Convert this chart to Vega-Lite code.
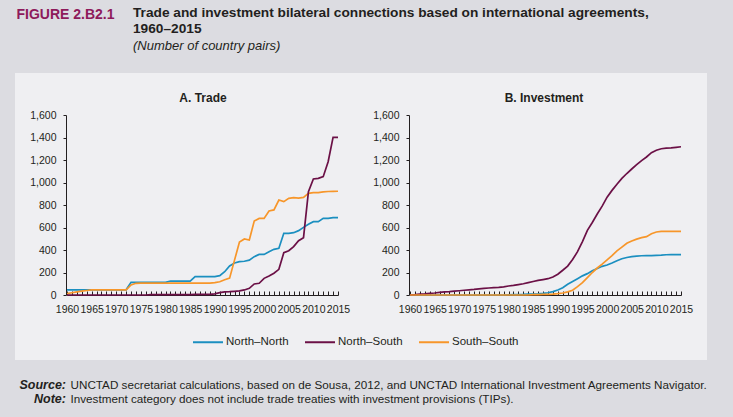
{
  "$schema": "https://vega.github.io/schema/vega-lite/v6.json",
  "width": 692,
  "height": 287,
  "autosize": "none",
  "padding": {"left": 15, "top": 73, "right": 26, "bottom": 57},
  "background": "#dcdce1",
  "config": {
    "view": {"fill": "#efeff2", "stroke": null},
    "font": "Liberation Sans",
    "axis": {"grid": false, "labelFont": "Liberation Sans", "labelFontSize": 10.5, "labelColor": "#231f20", "domainColor": "#231f20", "tickColor": "#231f20", "titleFont": "Liberation Sans", "titleColor": "#231f20"},
    "legend": {"labelFont": "Liberation Sans"}
  },
  "title": {
    "text": ["Trade and investment bilateral connections based on international agreements,", "1960–2015"],
    "subtitle": "(Number of country pairs)",
    "anchor": "start",
    "frame": "group",
    "dx": 118,
    "dy": 45,
    "offset": 0,
    "font": "Liberation Sans",
    "fontSize": 13.7,
    "fontWeight": "bold",
    "color": "#231f20",
    "lineHeight": 16,
    "subtitleFont": "Liberation Sans",
    "subtitleFontSize": 13,
    "subtitleFontStyle": "italic",
    "subtitleColor": "#231f20",
    "subtitlePadding": 4
  },
  "datasets": {
    "d": [
      {"panel":"Trade","series":"North–North","year":1960,"value":46},{"panel":"Trade","series":"North–North","year":1961,"value":46},{"panel":"Trade","series":"North–North","year":1962,"value":46},{"panel":"Trade","series":"North–North","year":1963,"value":46},{"panel":"Trade","series":"North–North","year":1964,"value":46},{"panel":"Trade","series":"North–North","year":1965,"value":46},{"panel":"Trade","series":"North–North","year":1966,"value":46},{"panel":"Trade","series":"North–North","year":1967,"value":46},{"panel":"Trade","series":"North–North","year":1968,"value":46},{"panel":"Trade","series":"North–North","year":1969,"value":46},{"panel":"Trade","series":"North–North","year":1970,"value":46},{"panel":"Trade","series":"North–North","year":1971,"value":46},{"panel":"Trade","series":"North–North","year":1972,"value":46},{"panel":"Trade","series":"North–North","year":1973,"value":113},{"panel":"Trade","series":"North–North","year":1974,"value":113},{"panel":"Trade","series":"North–North","year":1975,"value":113},{"panel":"Trade","series":"North–North","year":1976,"value":113},{"panel":"Trade","series":"North–North","year":1977,"value":113},{"panel":"Trade","series":"North–North","year":1978,"value":113},{"panel":"Trade","series":"North–North","year":1979,"value":113},{"panel":"Trade","series":"North–North","year":1980,"value":113},{"panel":"Trade","series":"North–North","year":1981,"value":124},{"panel":"Trade","series":"North–North","year":1982,"value":124},{"panel":"Trade","series":"North–North","year":1983,"value":124},{"panel":"Trade","series":"North–North","year":1984,"value":124},{"panel":"Trade","series":"North–North","year":1985,"value":124},{"panel":"Trade","series":"North–North","year":1986,"value":163},{"panel":"Trade","series":"North–North","year":1987,"value":163},{"panel":"Trade","series":"North–North","year":1988,"value":163},{"panel":"Trade","series":"North–North","year":1989,"value":163},{"panel":"Trade","series":"North–North","year":1990,"value":163},{"panel":"Trade","series":"North–North","year":1991,"value":172},{"panel":"Trade","series":"North–North","year":1992,"value":207},{"panel":"Trade","series":"North–North","year":1993,"value":258},{"panel":"Trade","series":"North–North","year":1994,"value":285},{"panel":"Trade","series":"North–North","year":1995,"value":296},{"panel":"Trade","series":"North–North","year":1996,"value":300},{"panel":"Trade","series":"North–North","year":1997,"value":310},{"panel":"Trade","series":"North–North","year":1998,"value":341},{"panel":"Trade","series":"North–North","year":1999,"value":361},{"panel":"Trade","series":"North–North","year":2000,"value":361},{"panel":"Trade","series":"North–North","year":2001,"value":385},{"panel":"Trade","series":"North–North","year":2002,"value":406},{"panel":"Trade","series":"North–North","year":2003,"value":415},{"panel":"Trade","series":"North–North","year":2004,"value":548},{"panel":"Trade","series":"North–North","year":2005,"value":548},{"panel":"Trade","series":"North–North","year":2006,"value":554},{"panel":"Trade","series":"North–North","year":2007,"value":572},{"panel":"Trade","series":"North–North","year":2008,"value":601},{"panel":"Trade","series":"North–North","year":2009,"value":628},{"panel":"Trade","series":"North–North","year":2010,"value":652},{"panel":"Trade","series":"North–North","year":2011,"value":652},{"panel":"Trade","series":"North–North","year":2012,"value":681},{"panel":"Trade","series":"North–North","year":2013,"value":681},{"panel":"Trade","series":"North–North","year":2014,"value":687},{"panel":"Trade","series":"North–North","year":2015,"value":687},

      {"panel":"Trade","series":"North–South","year":1960,"value":0},{"panel":"Trade","series":"North–South","year":1961,"value":0},{"panel":"Trade","series":"North–South","year":1962,"value":0},{"panel":"Trade","series":"North–South","year":1963,"value":0},{"panel":"Trade","series":"North–South","year":1964,"value":0},{"panel":"Trade","series":"North–South","year":1965,"value":0},{"panel":"Trade","series":"North–South","year":1966,"value":0},{"panel":"Trade","series":"North–South","year":1967,"value":0},{"panel":"Trade","series":"North–South","year":1968,"value":0},{"panel":"Trade","series":"North–South","year":1969,"value":0},{"panel":"Trade","series":"North–South","year":1970,"value":0},{"panel":"Trade","series":"North–South","year":1971,"value":0},{"panel":"Trade","series":"North–South","year":1972,"value":0},{"panel":"Trade","series":"North–South","year":1973,"value":0},{"panel":"Trade","series":"North–South","year":1974,"value":0},{"panel":"Trade","series":"North–South","year":1975,"value":0},{"panel":"Trade","series":"North–South","year":1976,"value":0},{"panel":"Trade","series":"North–South","year":1977,"value":3},{"panel":"Trade","series":"North–South","year":1978,"value":3},{"panel":"Trade","series":"North–South","year":1979,"value":3},{"panel":"Trade","series":"North–South","year":1980,"value":3},{"panel":"Trade","series":"North–South","year":1981,"value":3},{"panel":"Trade","series":"North–South","year":1982,"value":3},{"panel":"Trade","series":"North–South","year":1983,"value":3},{"panel":"Trade","series":"North–South","year":1984,"value":3},{"panel":"Trade","series":"North–South","year":1985,"value":3},{"panel":"Trade","series":"North–South","year":1986,"value":6},{"panel":"Trade","series":"North–South","year":1987,"value":6},{"panel":"Trade","series":"North–South","year":1988,"value":6},{"panel":"Trade","series":"North–South","year":1989,"value":6},{"panel":"Trade","series":"North–South","year":1990,"value":10},{"panel":"Trade","series":"North–South","year":1991,"value":21},{"panel":"Trade","series":"North–South","year":1992,"value":28},{"panel":"Trade","series":"North–South","year":1993,"value":30},{"panel":"Trade","series":"North–South","year":1994,"value":33},{"panel":"Trade","series":"North–South","year":1995,"value":36},{"panel":"Trade","series":"North–South","year":1996,"value":45},{"panel":"Trade","series":"North–South","year":1997,"value":59},{"panel":"Trade","series":"North–South","year":1998,"value":98},{"panel":"Trade","series":"North–South","year":1999,"value":104},{"panel":"Trade","series":"North–South","year":2000,"value":148},{"panel":"Trade","series":"North–South","year":2001,"value":169},{"panel":"Trade","series":"North–South","year":2002,"value":193},{"panel":"Trade","series":"North–South","year":2003,"value":228},{"panel":"Trade","series":"North–South","year":2004,"value":376},{"panel":"Trade","series":"North–South","year":2005,"value":394},{"panel":"Trade","series":"North–South","year":2006,"value":430},{"panel":"Trade","series":"North–South","year":2007,"value":483},{"panel":"Trade","series":"North–South","year":2008,"value":510},{"panel":"Trade","series":"North–South","year":2009,"value":918},{"panel":"Trade","series":"North–South","year":2010,"value":1031},{"panel":"Trade","series":"North–South","year":2011,"value":1037},{"panel":"Trade","series":"North–South","year":2012,"value":1052},{"panel":"Trade","series":"North–South","year":2013,"value":1185},{"panel":"Trade","series":"North–South","year":2014,"value":1401},{"panel":"Trade","series":"North–South","year":2015,"value":1401},

      {"panel":"Trade","series":"South–South","year":1960,"value":12},{"panel":"Trade","series":"South–South","year":1961,"value":20},{"panel":"Trade","series":"South–South","year":1962,"value":28},{"panel":"Trade","series":"South–South","year":1963,"value":35},{"panel":"Trade","series":"South–South","year":1964,"value":40},{"panel":"Trade","series":"South–South","year":1965,"value":45},{"panel":"Trade","series":"South–South","year":1966,"value":46},{"panel":"Trade","series":"South–South","year":1967,"value":46},{"panel":"Trade","series":"South–South","year":1968,"value":46},{"panel":"Trade","series":"South–South","year":1969,"value":46},{"panel":"Trade","series":"South–South","year":1970,"value":46},{"panel":"Trade","series":"South–South","year":1971,"value":46},{"panel":"Trade","series":"South–South","year":1972,"value":46},{"panel":"Trade","series":"South–South","year":1973,"value":90},{"panel":"Trade","series":"South–South","year":1974,"value":104},{"panel":"Trade","series":"South–South","year":1975,"value":106},{"panel":"Trade","series":"South–South","year":1976,"value":106},{"panel":"Trade","series":"South–South","year":1977,"value":106},{"panel":"Trade","series":"South–South","year":1978,"value":106},{"panel":"Trade","series":"South–South","year":1979,"value":106},{"panel":"Trade","series":"South–South","year":1980,"value":106},{"panel":"Trade","series":"South–South","year":1981,"value":106},{"panel":"Trade","series":"South–South","year":1982,"value":106},{"panel":"Trade","series":"South–South","year":1983,"value":106},{"panel":"Trade","series":"South–South","year":1984,"value":106},{"panel":"Trade","series":"South–South","year":1985,"value":106},{"panel":"Trade","series":"South–South","year":1986,"value":106},{"panel":"Trade","series":"South–South","year":1987,"value":106},{"panel":"Trade","series":"South–South","year":1988,"value":106},{"panel":"Trade","series":"South–South","year":1989,"value":106},{"panel":"Trade","series":"South–South","year":1990,"value":110},{"panel":"Trade","series":"South–South","year":1991,"value":118},{"panel":"Trade","series":"South–South","year":1992,"value":135},{"panel":"Trade","series":"South–South","year":1993,"value":150},{"panel":"Trade","series":"South–South","year":1994,"value":310},{"panel":"Trade","series":"South–South","year":1995,"value":470},{"panel":"Trade","series":"South–South","year":1996,"value":498},{"panel":"Trade","series":"South–South","year":1997,"value":489},{"panel":"Trade","series":"South–South","year":1998,"value":658},{"panel":"Trade","series":"South–South","year":1999,"value":681},{"panel":"Trade","series":"South–South","year":2000,"value":681},{"panel":"Trade","series":"South–South","year":2001,"value":747},{"panel":"Trade","series":"South–South","year":2002,"value":756},{"panel":"Trade","series":"South–South","year":2003,"value":844},{"panel":"Trade","series":"South–South","year":2004,"value":830},{"panel":"Trade","series":"South–South","year":2005,"value":859},{"panel":"Trade","series":"South–South","year":2006,"value":865},{"panel":"Trade","series":"South–South","year":2007,"value":862},{"panel":"Trade","series":"South–South","year":2008,"value":868},{"panel":"Trade","series":"South–South","year":2009,"value":904},{"panel":"Trade","series":"South–South","year":2010,"value":910},{"panel":"Trade","series":"South–South","year":2011,"value":910},{"panel":"Trade","series":"South–South","year":2012,"value":916},{"panel":"Trade","series":"South–South","year":2013,"value":920},{"panel":"Trade","series":"South–South","year":2014,"value":921},{"panel":"Trade","series":"South–South","year":2015,"value":922},

      {"panel":"Investment","series":"North–North","year":1960,"value":0},{"panel":"Investment","series":"North–North","year":1961,"value":0},{"panel":"Investment","series":"North–North","year":1962,"value":0},{"panel":"Investment","series":"North–North","year":1963,"value":0},{"panel":"Investment","series":"North–North","year":1964,"value":0},{"panel":"Investment","series":"North–North","year":1965,"value":0},{"panel":"Investment","series":"North–North","year":1966,"value":0},{"panel":"Investment","series":"North–North","year":1967,"value":0},{"panel":"Investment","series":"North–North","year":1968,"value":0},{"panel":"Investment","series":"North–North","year":1969,"value":0},{"panel":"Investment","series":"North–North","year":1970,"value":0},{"panel":"Investment","series":"North–North","year":1971,"value":0},{"panel":"Investment","series":"North–North","year":1972,"value":0},{"panel":"Investment","series":"North–North","year":1973,"value":0},{"panel":"Investment","series":"North–North","year":1974,"value":0},{"panel":"Investment","series":"North–North","year":1975,"value":0},{"panel":"Investment","series":"North–North","year":1976,"value":0},{"panel":"Investment","series":"North–North","year":1977,"value":0},{"panel":"Investment","series":"North–North","year":1978,"value":0},{"panel":"Investment","series":"North–North","year":1979,"value":0},{"panel":"Investment","series":"North–North","year":1980,"value":2},{"panel":"Investment","series":"North–North","year":1981,"value":3},{"panel":"Investment","series":"North–North","year":1982,"value":4},{"panel":"Investment","series":"North–North","year":1983,"value":5},{"panel":"Investment","series":"North–North","year":1984,"value":7},{"panel":"Investment","series":"North–North","year":1985,"value":9},{"panel":"Investment","series":"North–North","year":1986,"value":11},{"panel":"Investment","series":"North–North","year":1987,"value":14},{"panel":"Investment","series":"North–North","year":1988,"value":20},{"panel":"Investment","series":"North–North","year":1989,"value":30},{"panel":"Investment","series":"North–North","year":1990,"value":45},{"panel":"Investment","series":"North–North","year":1991,"value":65},{"panel":"Investment","series":"North–North","year":1992,"value":95},{"panel":"Investment","series":"North–North","year":1993,"value":120},{"panel":"Investment","series":"North–North","year":1994,"value":145},{"panel":"Investment","series":"North–North","year":1995,"value":170},{"panel":"Investment","series":"North–North","year":1996,"value":190},{"panel":"Investment","series":"North–North","year":1997,"value":215},{"panel":"Investment","series":"North–North","year":1998,"value":235},{"panel":"Investment","series":"North–North","year":1999,"value":255},{"panel":"Investment","series":"North–North","year":2000,"value":267},{"panel":"Investment","series":"North–North","year":2001,"value":285},{"panel":"Investment","series":"North–North","year":2002,"value":305},{"panel":"Investment","series":"North–North","year":2003,"value":322},{"panel":"Investment","series":"North–North","year":2004,"value":333},{"panel":"Investment","series":"North–North","year":2005,"value":341},{"panel":"Investment","series":"North–North","year":2006,"value":346},{"panel":"Investment","series":"North–North","year":2007,"value":349},{"panel":"Investment","series":"North–North","year":2008,"value":350},{"panel":"Investment","series":"North–North","year":2009,"value":350},{"panel":"Investment","series":"North–North","year":2010,"value":352},{"panel":"Investment","series":"North–North","year":2011,"value":354},{"panel":"Investment","series":"North–North","year":2012,"value":358},{"panel":"Investment","series":"North–North","year":2013,"value":359},{"panel":"Investment","series":"North–North","year":2014,"value":359},{"panel":"Investment","series":"North–North","year":2015,"value":359},

      {"panel":"Investment","series":"North–South","year":1960,"value":0},{"panel":"Investment","series":"North–South","year":1961,"value":3},{"panel":"Investment","series":"North–South","year":1962,"value":7},{"panel":"Investment","series":"North–South","year":1963,"value":10},{"panel":"Investment","series":"North–South","year":1964,"value":14},{"panel":"Investment","series":"North–South","year":1965,"value":18},{"panel":"Investment","series":"North–South","year":1966,"value":23},{"panel":"Investment","series":"North–South","year":1967,"value":27},{"panel":"Investment","series":"North–South","year":1968,"value":30},{"panel":"Investment","series":"North–South","year":1969,"value":34},{"panel":"Investment","series":"North–South","year":1970,"value":38},{"panel":"Investment","series":"North–South","year":1971,"value":42},{"panel":"Investment","series":"North–South","year":1972,"value":46},{"panel":"Investment","series":"North–South","year":1973,"value":50},{"panel":"Investment","series":"North–South","year":1974,"value":55},{"panel":"Investment","series":"North–South","year":1975,"value":59},{"panel":"Investment","series":"North–South","year":1976,"value":62},{"panel":"Investment","series":"North–South","year":1977,"value":65},{"panel":"Investment","series":"North–South","year":1978,"value":68},{"panel":"Investment","series":"North–South","year":1979,"value":73},{"panel":"Investment","series":"North–South","year":1980,"value":80},{"panel":"Investment","series":"North–South","year":1981,"value":86},{"panel":"Investment","series":"North–South","year":1982,"value":93},{"panel":"Investment","series":"North–South","year":1983,"value":100},{"panel":"Investment","series":"North–South","year":1984,"value":110},{"panel":"Investment","series":"North–South","year":1985,"value":120},{"panel":"Investment","series":"North–South","year":1986,"value":130},{"panel":"Investment","series":"North–South","year":1987,"value":137},{"panel":"Investment","series":"North–South","year":1988,"value":145},{"panel":"Investment","series":"North–South","year":1989,"value":160},{"panel":"Investment","series":"North–South","year":1990,"value":185},{"panel":"Investment","series":"North–South","year":1991,"value":220},{"panel":"Investment","series":"North–South","year":1992,"value":257},{"panel":"Investment","series":"North–South","year":1993,"value":315},{"panel":"Investment","series":"North–South","year":1994,"value":385},{"panel":"Investment","series":"North–South","year":1995,"value":475},{"panel":"Investment","series":"North–South","year":1996,"value":575},{"panel":"Investment","series":"North–South","year":1997,"value":645},{"panel":"Investment","series":"North–South","year":1998,"value":720},{"panel":"Investment","series":"North–South","year":1999,"value":790},{"panel":"Investment","series":"North–South","year":2000,"value":870},{"panel":"Investment","series":"North–South","year":2001,"value":930},{"panel":"Investment","series":"North–South","year":2002,"value":985},{"panel":"Investment","series":"North–South","year":2003,"value":1036},{"panel":"Investment","series":"North–South","year":2004,"value":1080},{"panel":"Investment","series":"North–South","year":2005,"value":1120},{"panel":"Investment","series":"North–South","year":2006,"value":1158},{"panel":"Investment","series":"North–South","year":2007,"value":1195},{"panel":"Investment","series":"North–South","year":2008,"value":1227},{"panel":"Investment","series":"North–South","year":2009,"value":1265},{"panel":"Investment","series":"North–South","year":2010,"value":1287},{"panel":"Investment","series":"North–South","year":2011,"value":1300},{"panel":"Investment","series":"North–South","year":2012,"value":1305},{"panel":"Investment","series":"North–South","year":2013,"value":1308},{"panel":"Investment","series":"North–South","year":2014,"value":1313},{"panel":"Investment","series":"North–South","year":2015,"value":1318},

      {"panel":"Investment","series":"South–South","year":1960,"value":0},{"panel":"Investment","series":"South–South","year":1961,"value":0},{"panel":"Investment","series":"South–South","year":1962,"value":0},{"panel":"Investment","series":"South–South","year":1963,"value":0},{"panel":"Investment","series":"South–South","year":1964,"value":0},{"panel":"Investment","series":"South–South","year":1965,"value":0},{"panel":"Investment","series":"South–South","year":1966,"value":0},{"panel":"Investment","series":"South–South","year":1967,"value":0},{"panel":"Investment","series":"South–South","year":1968,"value":0},{"panel":"Investment","series":"South–South","year":1969,"value":0},{"panel":"Investment","series":"South–South","year":1970,"value":0},{"panel":"Investment","series":"South–South","year":1971,"value":0},{"panel":"Investment","series":"South–South","year":1972,"value":0},{"panel":"Investment","series":"South–South","year":1973,"value":0},{"panel":"Investment","series":"South–South","year":1974,"value":0},{"panel":"Investment","series":"South–South","year":1975,"value":0},{"panel":"Investment","series":"South–South","year":1976,"value":0},{"panel":"Investment","series":"South–South","year":1977,"value":0},{"panel":"Investment","series":"South–South","year":1978,"value":0},{"panel":"Investment","series":"South–South","year":1979,"value":0},{"panel":"Investment","series":"South–South","year":1980,"value":0},{"panel":"Investment","series":"South–South","year":1981,"value":0},{"panel":"Investment","series":"South–South","year":1982,"value":0},{"panel":"Investment","series":"South–South","year":1983,"value":0},{"panel":"Investment","series":"South–South","year":1984,"value":0},{"panel":"Investment","series":"South–South","year":1985,"value":3},{"panel":"Investment","series":"South–South","year":1986,"value":4},{"panel":"Investment","series":"South–South","year":1987,"value":5},{"panel":"Investment","series":"South–South","year":1988,"value":6},{"panel":"Investment","series":"South–South","year":1989,"value":8},{"panel":"Investment","series":"South–South","year":1990,"value":12},{"panel":"Investment","series":"South–South","year":1991,"value":18},{"panel":"Investment","series":"South–South","year":1992,"value":28},{"panel":"Investment","series":"South–South","year":1993,"value":42},{"panel":"Investment","series":"South–South","year":1994,"value":75},{"panel":"Investment","series":"South–South","year":1995,"value":110},{"panel":"Investment","series":"South–South","year":1996,"value":155},{"panel":"Investment","series":"South–South","year":1997,"value":200},{"panel":"Investment","series":"South–South","year":1998,"value":240},{"panel":"Investment","series":"South–South","year":1999,"value":275},{"panel":"Investment","series":"South–South","year":2000,"value":312},{"panel":"Investment","series":"South–South","year":2001,"value":350},{"panel":"Investment","series":"South–South","year":2002,"value":392},{"panel":"Investment","series":"South–South","year":2003,"value":426},{"panel":"Investment","series":"South–South","year":2004,"value":460},{"panel":"Investment","series":"South–South","year":2005,"value":480},{"panel":"Investment","series":"South–South","year":2006,"value":497},{"panel":"Investment","series":"South–South","year":2007,"value":510},{"panel":"Investment","series":"South–South","year":2008,"value":519},{"panel":"Investment","series":"South–South","year":2009,"value":545},{"panel":"Investment","series":"South–South","year":2010,"value":560},{"panel":"Investment","series":"South–South","year":2011,"value":565},{"panel":"Investment","series":"South–South","year":2012,"value":566},{"panel":"Investment","series":"South–South","year":2013,"value":566},{"panel":"Investment","series":"South–South","year":2014,"value":566},{"panel":"Investment","series":"South–South","year":2015,"value":566}
    ]
  },
  "data": {"name": "d"},
  "layer": [
    {
      "layer": [
        {
          "transform": [{"filter": "datum.panel === 'Trade' && datum.series !== 'North–South'"}],
          "mark": {"type": "line", "strokeWidth": 1.7},
          "encoding": {
            "x": {
              "field": "year", "type": "quantitative",
              "scale": {"domain": [1960, 2015], "range": [52, 323], "nice": false, "zero": false},
              "axis": {
                "orient": "bottom", "offset": -65,
                "values": [1960,1961,1962,1963,1964,1965,1966,1967,1968,1969,1970,1971,1972,1973,1974,1975,1976,1977,1978,1979,1980,1981,1982,1983,1984,1985,1986,1987,1988,1989,1990,1991,1992,1993,1994,1995,1996,1997,1998,1999,2000,2001,2002,2003,2004,2005,2006,2007,2008,2009,2010,2011,2012,2013,2014,2015],
                "format": "d",
                "labelExpr": "datum.value % 5 === 0 ? datum.label : ''",
                "labelOverlap": false, "labelFlush": false,
                "tickSize": -4, "labelPadding": 13,
                "title": ["Source:", "Note:"],
                "titleX": 50.5, "titleY": 93,
                "titleAlign": "right", "titleBaseline": "alphabetic",
                "titleFontSize": 12.5, "titleFontStyle": "italic", "titleFontWeight": "bold",
                "titleLineHeight": 14.5
              }
            },
            "y": {
              "field": "value", "type": "quantitative",
              "scale": {"domain": [0, 1600], "range": [222, 42], "nice": false},
              "axis": {
                "orient": "left", "offset": -51,
                "values": [0, 200, 400, 600, 800, 1000, 1200, 1400, 1600],
                "format": ",d", "tickSize": 3, "labelPadding": 7,
                "title": "A. Trade", "titleAngle": 0,
                "titleX": 136.5, "titleY": 24,
                "titleAlign": "center", "titleBaseline": "middle",
                "titleFontSize": 12, "titleFontWeight": "bold"
              }
            },
            "color": {
              "field": "series", "type": "nominal",
              "scale": {"domain": ["North–North", "North–South", "South–South"], "range": ["#1b8fc0", "#6b1046", "#f7962a"]},
              "legend": {
                "orient": "none", "legendX": 177, "legendY": 253,
                "direction": "horizontal", "title": null,
                "symbolType": "stroke", "symbolSize": 900, "symbolStrokeWidth": 2,
                "labelFontSize": 11.5, "labelOffset": 2, "columnPadding": 12, "labelColor": "#231f20"
              }
            }
          }
        },
        {
          "transform": [{"filter": "datum.panel === 'Trade' && datum.series === 'North–South'"}],
          "mark": {"type": "line", "strokeWidth": 1.7},
          "encoding": {
            "x": {
              "field": "year", "type": "quantitative",
              "axis": {
                "orient": "top", "domain": false, "ticks": false, "labels": false,
                "title": "FIGURE 2.B2.1",
                "titleX": 1, "titleY": -54.5,
                "titleAlign": "left", "titleBaseline": "alphabetic",
                "titleFontSize": 14, "titleFontWeight": "bold", "titleColor": "#8e1a5b"
              }
            },
            "y": {"field": "value", "type": "quantitative", "axis": null},
            "color": {"field": "series", "type": "nominal"}
          }
        }
      ],
      "resolve": {"axis": {"x": "independent", "y": "independent"}}
    },
    {
      "transform": [{"filter": "datum.panel === 'Investment'"}],
      "mark": {"type": "line", "strokeWidth": 1.7},
      "encoding": {
        "x": {
          "field": "year", "type": "quantitative",
          "scale": {"domain": [1960, 2015], "range": [395, 666], "nice": false, "zero": false},
          "axis": {
            "orient": "bottom", "offset": -65,
            "values": [1960,1961,1962,1963,1964,1965,1966,1967,1968,1969,1970,1971,1972,1973,1974,1975,1976,1977,1978,1979,1980,1981,1982,1983,1984,1985,1986,1987,1988,1989,1990,1991,1992,1993,1994,1995,1996,1997,1998,1999,2000,2001,2002,2003,2004,2005,2006,2007,2008,2009,2010,2011,2012,2013,2014,2015],
            "format": "d",
            "labelExpr": "datum.value % 5 === 0 ? datum.label : ''",
            "labelOverlap": false, "labelFlush": false,
            "tickSize": -4, "labelPadding": 13,
            "title": ["UNCTAD secretariat calculations, based on de Sousa, 2012, and UNCTAD International Investment Agreements Navigator.", "Investment category does not include trade treaties with investment provisions (TIPs)."],
            "titleX": 55, "titleY": 93,
            "titleAlign": "left", "titleBaseline": "alphabetic",
            "titleFontSize": 11.7, "titleFontWeight": "normal",
            "titleLineHeight": 14.5
          }
        },
        "y": {
          "field": "value", "type": "quantitative",
          "scale": {"domain": [0, 1600], "range": [222, 42], "nice": false},
          "axis": {
            "orient": "left", "offset": -394,
            "values": [0, 200, 400, 600, 800, 1000, 1200, 1400, 1600],
            "format": ",d", "tickSize": 3, "labelPadding": 7,
            "title": "B. Investment", "titleAngle": 0,
            "titleX": 134.5, "titleY": 24,
            "titleAlign": "center", "titleBaseline": "middle",
            "titleFontSize": 12, "titleFontWeight": "bold"
          }
        },
        "color": {"field": "series", "type": "nominal"}
      }
    }
  ],
  "resolve": {"scale": {"x": "independent", "y": "independent"}}
}
